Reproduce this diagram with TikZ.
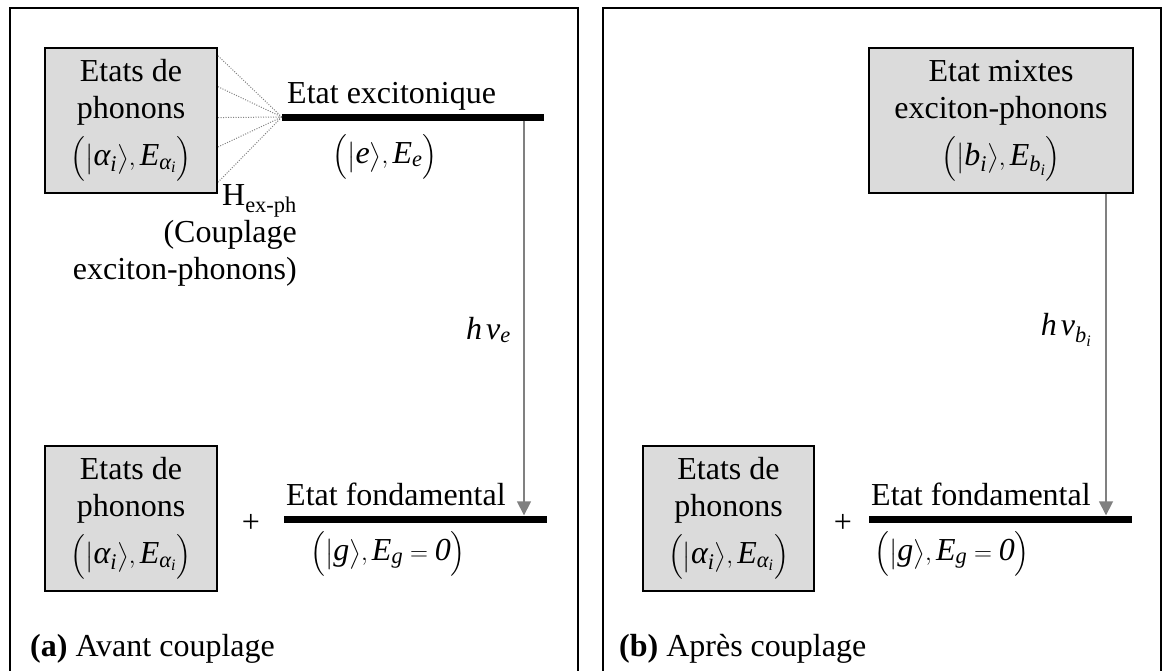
\documentclass[tikz,border=0pt]{standalone}
\usepackage{amsmath}
\usepackage{fontspec}
\setmainfont{Liberation Serif}
\usetikzlibrary{arrows.meta,calc}

\newcommand{\itm}[1]{\textit{#1}}
\newcommand{\ketalpha}{$\Bigl(\bigl|\itm{α}_{\itm{i}}\bigr\rangle,\itm{E}_{\itm{α}_{\itm{i}}}\Bigr)$}
\newcommand{\ketexc}{$\Bigl(\bigl|\itm{e}\bigr\rangle,\itm{E}_{\itm{e}}\Bigr)$}
\newcommand{\ketmix}{$\Bigl(\bigl|\itm{b}_{\itm{i}}\bigr\rangle,\itm{E}_{\itm{b}_{\itm{i}}}\Bigr)$}
\newcommand{\ketfond}{$\Bigl(\bigl|\itm{g}\bigr\rangle,\itm{E}_{\itm{g}}=\itm{0}\Bigr)$}

\begin{document}
\begin{tikzpicture}[x=1pt,y=-1pt,inner sep=0pt,
  font=\fontsize{32}{37}\selectfont,
  frame/.style={draw=black,line width=2pt},
  statebox/.style={draw=black,line width=2pt,fill=black!14,align=center,minimum height=145pt},
  energy/.style={fill=black,minimum height=7pt},
  coupling/.style={draw=gray,line width=1pt,dash pattern=on 1pt off 1.5pt},
  emit/.style={draw=gray,line width=1.6pt,-{Triangle[width=14pt,length=14pt]}}]
  \useasboundingbox (0,0) rectangle (1169,670);

  % (a) avant couplage
  \draw[frame] (10,8) rectangle (578,676);
  \node[statebox,minimum width=172pt] (phA) at (131,120.5) {Etats de\\phonons\\[10pt]\ketalpha};
  \node[energy,minimum width=262pt] (exc) at (413,117) {};
  \foreach \t in {0.06,0.27,0.48,0.68,0.92}
    \draw[coupling] ($(phA.north east)!\t!(phA.south east)$) -- (exc.west);
  \node[anchor=base west] (excLab) at (287,103) {Etat excitonique};
  \node (excKet) at (385,157) {\ketexc};
  \node[anchor=north east,align=right] (hexph) at (297,184) {H\textsubscript{ex-ph}\\(Couplage\\exciton-phonons)};

  \node[statebox,minimum width=172pt] (phA2) at (131,518.5) {Etats de\\phonons\\[10pt]\ketalpha};
  \node (plusA) at (251,523) {+};
  \node[energy,minimum width=263pt] (fonA) at (415.5,519) {};
  \node[anchor=base west] (fonALab) at (286,505) {Etat fondamental};
  \node (fonAKet) at (388,554) {\ketfond};
  \coordinate (ev) at (524,0);
  \draw[emit] (exc.south -| ev) -- (fonA.north -| ev);
  \node[anchor=east] (hve) at (511,330) {$\itm{h}\,\itm{ν}_{\itm{e}}$};
  \node[anchor=base west] (capA) at (30,656) {\textbf{(a)} Avant couplage};

  % (b) apres couplage
  \draw[frame] (603,8) rectangle (1161,676);
  \node[statebox,minimum width=264pt] (mix) at (1001,120.5) {Etat mixtes\\exciton-phonons\\[10pt]\ketmix};
  \node[statebox,minimum width=171pt] (phB) at (728.5,518.5) {Etats de\\phonons\\[10pt]\ketalpha};
  \node (plusB) at (843,523) {+};
  \node[energy,minimum width=263pt] (fonB) at (1000.5,519) {};
  \node[anchor=base west] (fonBLab) at (871,505) {Etat fondamental};
  \node (fonBKet) at (952,554) {\ketfond};
  \coordinate (bv) at (1106,0);
  \draw[emit] (mix.south -| bv) -- (fonB.north -| bv);
  \node[anchor=east] (hvb) at (1092,330) {$\itm{h}\,\itm{ν}_{\itm{b}_{\itm{i}}}$};
  \node[anchor=base west] (capB) at (619,656) {\textbf{(b)} Après couplage};
\end{tikzpicture}
\end{document}
